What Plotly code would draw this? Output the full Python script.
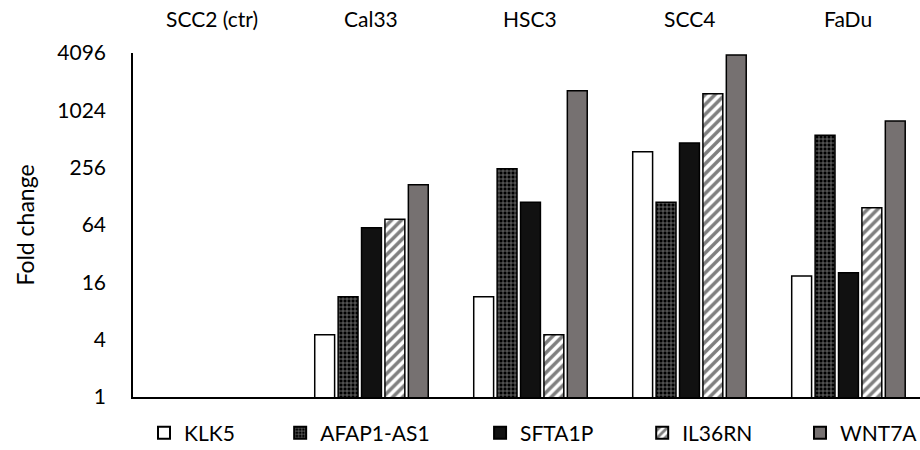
import plotly.graph_objects as go
import math

categories = ["SCC2 (ctr)", "Cal33", "HSC3", "SCC4", "FaDu"]
series_names = ["KLK5", "AFAP1-AS1", "SFTA1P", "IL36RN", "WNT7A"]
klk5 = [1, 4.5, 11.3, 377, 18.6]
afap1_as1 = [1, 11.3, 250, 111, 560]
sfta1p = [1, 60, 111, 464, 20.2]
il36rn = [1, 73.5, 4.5, 1530, 97]
wnt7a = [1, 169, 1643, 3900, 790]
ytick_vals = [1, 4, 16, 64, 256, 1024, 4096]

FONT = "Lato, Carlito, Calibri, sans-serif"

styles = [
    dict(color="white", pattern=None),
    dict(color="black", pattern=dict(shape="+", fgcolor="white", bgcolor="black", size=4, solidity=0.35)),
    dict(color="#111111", pattern=None),
    dict(color="white", pattern=dict(shape="/", fgcolor="black", bgcolor="white", size=7, solidity=0.5)),
    dict(color="#767171", pattern=None),
]
values = [klk5, afap1_as1, sfta1p, il36rn, wnt7a]
legend_ids = ["legend", "legend2", "legend3", "legend4", "legend5"]
legend_x = [0.014, 0.187, 0.441, 0.647, 0.8475]

fig = go.Figure()
for name, vals, st, lid in zip(series_names, values, styles, legend_ids):
    lw = [0 if v <= 1 else 1.5 for v in vals]
    marker = dict(color=st["color"], line=dict(color="black", width=lw))
    if st["pattern"]:
        marker["pattern"] = st["pattern"]
    fig.add_trace(go.Bar(x=categories, y=vals, name=name, marker=marker, legend=lid))

for lab in categories:
    fig.add_annotation(text=lab, x=lab, y=1.0, xref="x", yref="paper",
                       yanchor="middle", xanchor="center", yshift=35, showarrow=False,
                       font=dict(size=21, color="black", family=FONT))

legend_common = dict(orientation="h", xanchor="left", y=-0.105, yanchor="middle",
                     font=dict(size=21, family=FONT, color="black"),
                     bgcolor="rgba(0,0,0,0)", itemsizing="constant")
layout_legends = {lid: dict(x=lx, **legend_common) for lid, lx in zip(legend_ids, legend_x)}

fig.update_layout(
    width=920, height=450,
    margin=dict(l=133, r=0, t=53, b=53, autoexpand=False),
    plot_bgcolor="white", paper_bgcolor="white",
    barmode="group", bargap=0.264, bargroupgap=0.15,
    font=dict(family=FONT, size=21, color="black"),
    showlegend=True,
    xaxis=dict(showticklabels=False, showline=True, linecolor="black", linewidth=1.5,
               ticks="", range=[-0.5, 4.45]),
    yaxis=dict(type="log", range=[0, math.log10(4096)], tickvals=ytick_vals,
               ticktext=[str(v) for v in ytick_vals], showgrid=False, showline=True,
               linecolor="black", linewidth=1.5, ticks="", zeroline=False,
               ticklabelstandoff=21,
               title=dict(text="Fold change", font=dict(size=23), standoff=16),
               tickfont=dict(size=21)),
    **layout_legends,
)

fig.write_html("out.html")
